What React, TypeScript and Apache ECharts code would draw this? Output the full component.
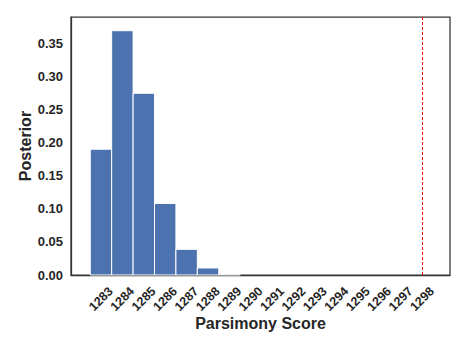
import React, { useEffect, useRef } from "react";
import * as echarts from "echarts";

const scores = [1283, 1284, 1285, 1286, 1287, 1288, 1289];
const posterior = [0.19, 0.369, 0.2745, 0.108, 0.0388, 0.0106, 0.0012];
const xTicks = [1283, 1284, 1285, 1286, 1287, 1288, 1289, 1290, 1291, 1292, 1293, 1294, 1295, 1296, 1297, 1298];
const yTicks = [0, 0.05, 0.1, 0.15, 0.2, 0.25, 0.3, 0.35];
const observedScore = 1298;

export default function App() {
  const ref = useRef<HTMLDivElement>(null);
  useEffect(() => {
    document.body.style.margin = "0";
    const chart = echarts.init(ref.current!, null, { renderer: "svg" });
    const font = "'Liberation Sans', Arial, Helvetica, sans-serif";
    chart.setOption({
      animation: false,
      grid: {
        left: 71,
        top: 17,
        right: 18,
        bottom: 76,
        show: true,
        borderColor: "#333",
        borderWidth: 1.25,
        backgroundColor: "#fff",
      },
      xAxis: {
        type: "value",
        min: 1281.6,
        max: 1299.3,
        name: "Parsimony Score",
        nameLocation: "middle",
        nameGap: 40,
        nameMoveOverlap: false,
        nameTextStyle: { fontFamily: font, fontWeight: "bold", fontSize: 16, color: "#262626" },
        axisLine: { show: true, lineStyle: { color: "#333", width: 1.25 } },
        axisTick: { show: false },
        splitLine: { show: false },
        axisLabel: {
          customValues: xTicks,
          rotate: 45,
          align: "center",
          verticalAlign: "middle",
          margin: 24,
          fontFamily: font,
          fontWeight: "bold",
          fontSize: 12.5,
          color: "#262626",
          formatter: (v: number) => String(v),
        },
      },
      yAxis: {
        type: "value",
        min: 0,
        max: 0.3897,
        name: "Posterior",
        nameLocation: "middle",
        nameGap: 38,
        nameMoveOverlap: false,
        nameRotate: 90,
        nameTextStyle: { fontFamily: font, fontWeight: "bold", fontSize: 16, color: "#262626" },
        axisLine: { show: true, lineStyle: { color: "#333", width: 1.25 } },
        axisTick: { show: false },
        splitLine: { show: false },
        axisLabel: {
          customValues: yTicks,
          margin: 8,
          fontFamily: font,
          fontWeight: "bold",
          fontSize: 13,
          color: "#262626",
          formatter: (v: number) => v.toFixed(2),
        },
      },
      series: [
        {
          type: "custom",
          data: scores.map((s, i) => [s, posterior[i]]),
          renderItem: (params: any, api: any) => {
            const x = api.value(0);
            const y = api.value(1);
            const p0 = api.coord([x - 0.5, y]);
            const p1 = api.coord([x + 0.5, 0]);
            return {
              type: "rect",
              shape: { x: p0[0], y: p0[1], width: p1[0] - p0[0], height: p1[1] - p0[1] },
              style: { fill: "#4c72b0", stroke: "#ffffff", lineWidth: 1 },
            };
          },
          markLine: {
            silent: true,
            symbol: "none",
            label: { show: false },
            lineStyle: { color: "#ff0000", type: [3, 2], width: 1 },
            data: [{ xAxis: observedScore }],
          },
        },
      ],
    });
    return () => chart.dispose();
  }, []);
  return <div ref={ref} style={{ width: 468, height: 351 }} />;
}
